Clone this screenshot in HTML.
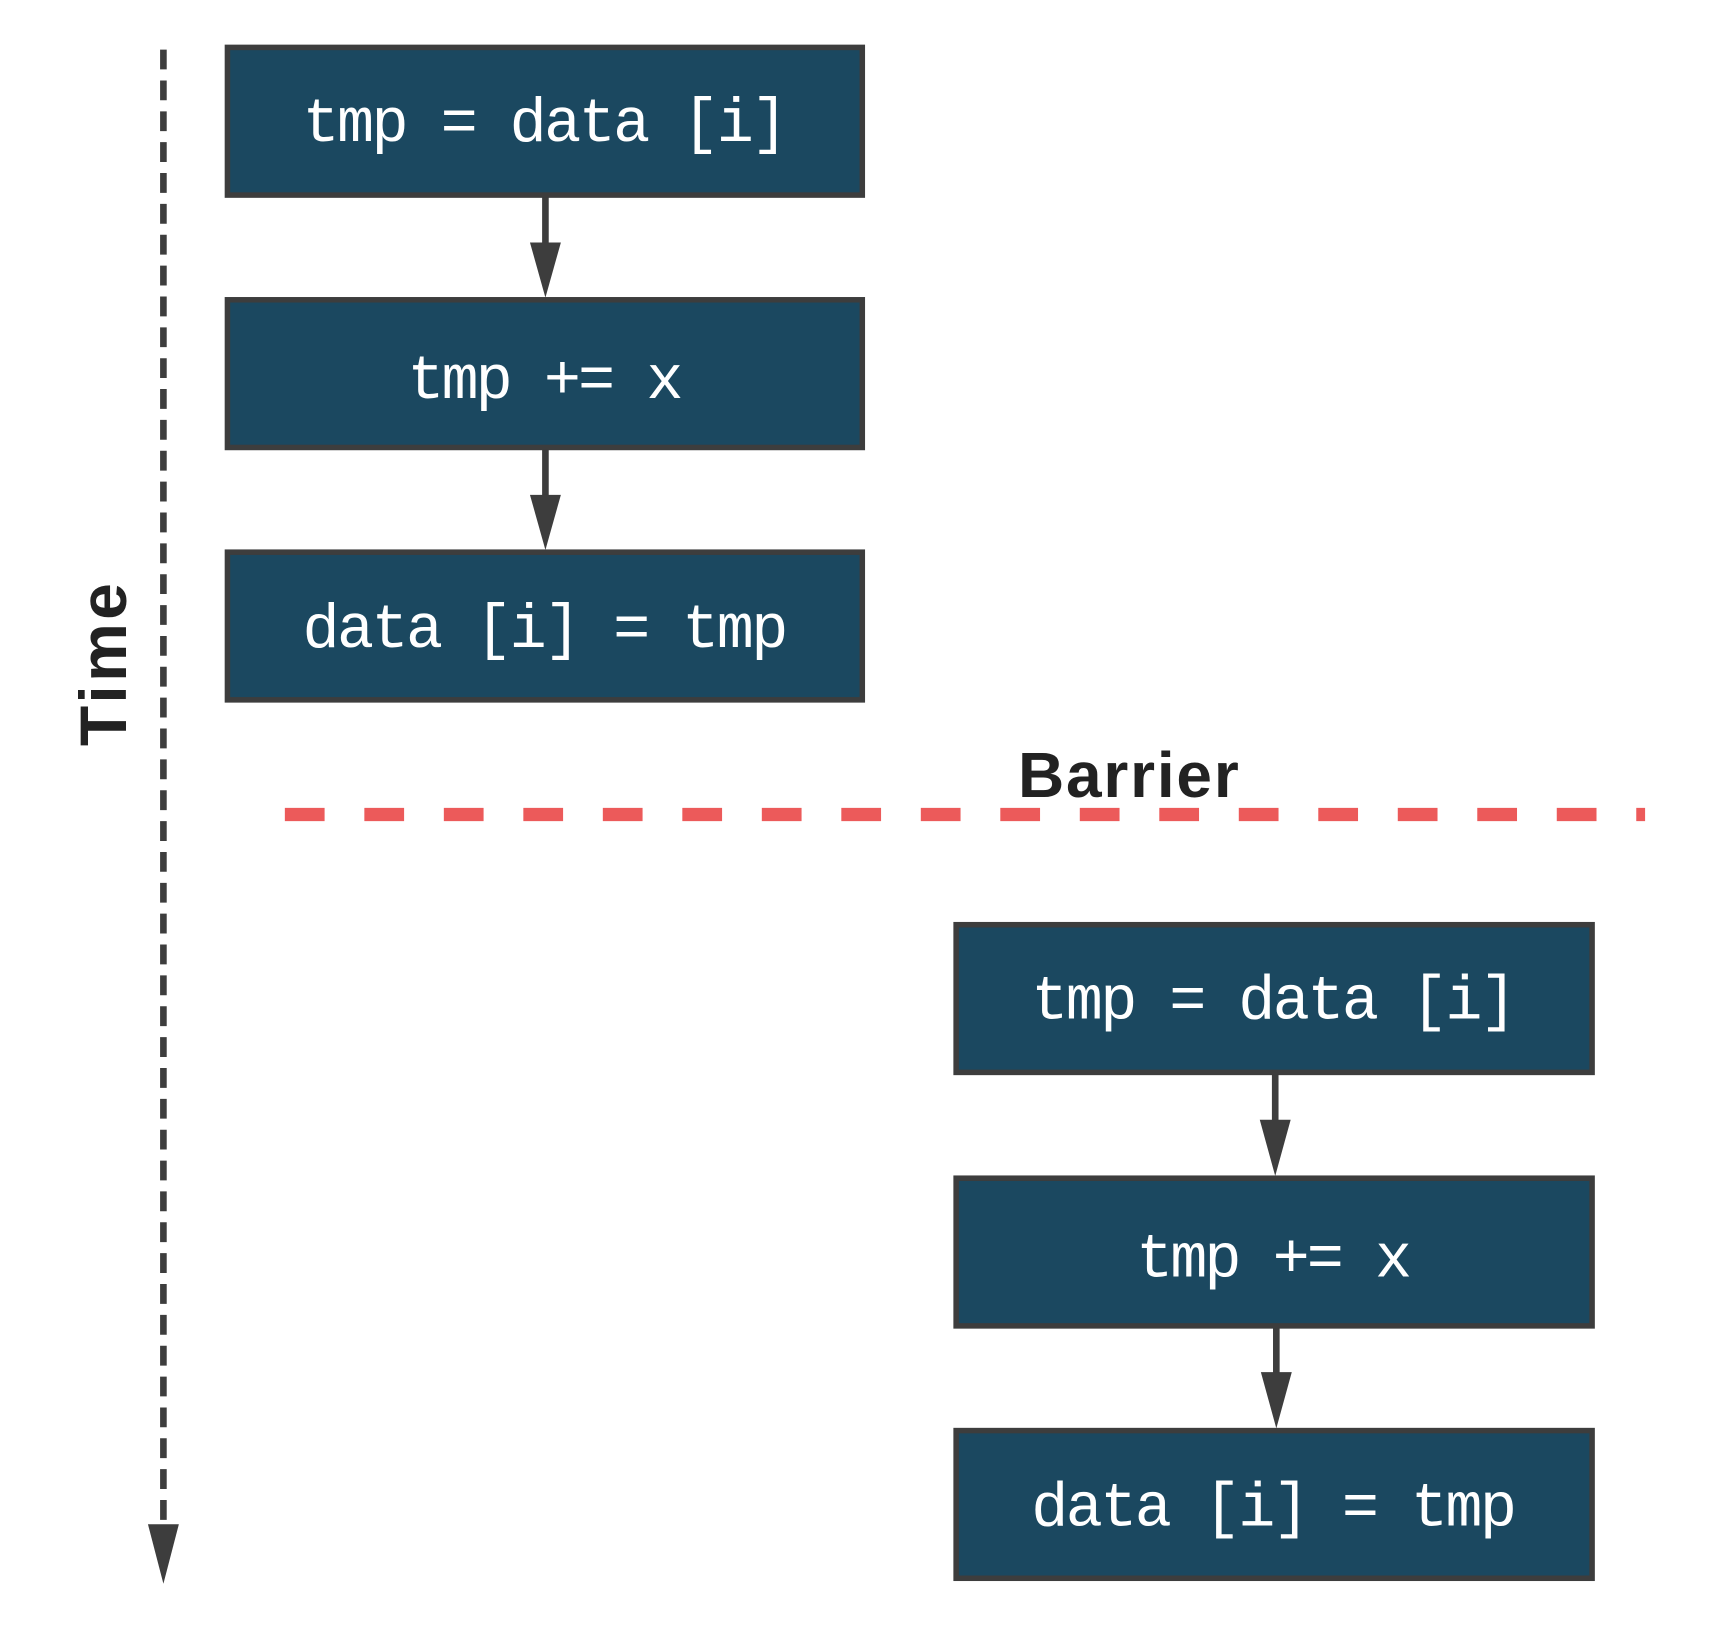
<!DOCTYPE html>
<html><head><meta charset="utf-8"><style>html,body{margin:0;padding:0;background:#fff}svg{display:block}</style></head>
<body>
<svg width="1729" height="1640" viewBox="0 0 1566 1488" preserveAspectRatio="none" xmlns="http://www.w3.org/2000/svg">
<g>
<line x1="148" y1="45" x2="148" y2="1385" stroke="#3d3d3d" stroke-width="6" stroke-dasharray="18,10"/>
<polygon points="134,1383 162,1383 148,1437" fill="#3d3d3d"/>
</g>
<text transform="translate(114,603) rotate(-90)" text-anchor="middle" font-family="Liberation Sans, sans-serif" font-weight="bold" font-size="60" fill="#222" textLength="148">Time</text>
<line x1="258" y1="739" x2="1490" y2="739" stroke="#ec5a5a" stroke-width="12" stroke-dasharray="36,36"/>
<text x="922" y="723" font-family="Liberation Sans, sans-serif" font-weight="bold" font-size="58" fill="#222" textLength="200">Barrier</text>
<g font-family="Liberation Mono, monospace" font-size="56" fill="#fff" text-anchor="middle">
<g><rect x="206" y="43" width="575" height="134" fill="#1b4860" stroke="#3d3d3d" stroke-width="5"/><text x="494" y="128" textLength="440">tmp = data [i]</text></g>
<g><rect x="206" y="272" width="575" height="134" fill="#1b4860" stroke="#3d3d3d" stroke-width="5"/><text x="494" y="361" textLength="250">tmp += x</text></g>
<g><rect x="206" y="501" width="575" height="134" fill="#1b4860" stroke="#3d3d3d" stroke-width="5"/><text x="494" y="587" textLength="440">data [i] = tmp</text></g>
<g><rect x="866" y="839" width="576" height="134" fill="#1b4860" stroke="#3d3d3d" stroke-width="5"/><text x="1154" y="924" textLength="440">tmp = data [i]</text></g>
<g><rect x="866" y="1069" width="576" height="134" fill="#1b4860" stroke="#3d3d3d" stroke-width="5"/><text x="1154" y="1158" textLength="250">tmp += x</text></g>
<g><rect x="866" y="1298" width="576" height="134" fill="#1b4860" stroke="#3d3d3d" stroke-width="5"/><text x="1154" y="1384" textLength="440">data [i] = tmp</text></g>
</g>
<g fill="#3d3d3d" stroke="#3d3d3d">
<g><line x1="494" y1="179" x2="494" y2="225" stroke-width="6"/><polygon points="480,220 508,220 494,270" stroke="none"/></g>
<g><line x1="494" y1="408" x2="494" y2="454" stroke-width="6"/><polygon points="480,449 508,449 494,499" stroke="none"/></g>
<g><line x1="1155" y1="975" x2="1155" y2="1020" stroke-width="6"/><polygon points="1141,1016 1169,1016 1155,1067" stroke="none"/></g>
<g><line x1="1156" y1="1205" x2="1156" y2="1250" stroke-width="6"/><polygon points="1142,1245 1170,1245 1156,1296" stroke="none"/></g>
</g>
</svg>
</body></html>
